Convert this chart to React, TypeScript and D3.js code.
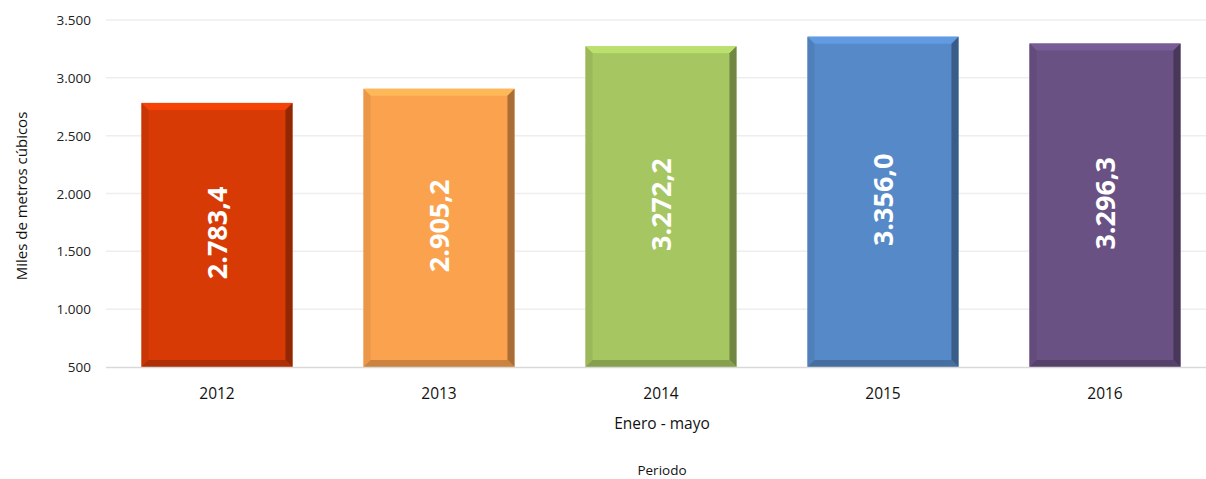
import { useRef, useEffect } from "react"
import * as d3 from "d3"

const years = ["2012", "2013", "2014", "2015", "2016"]
const values = [2783.4, 2905.2, 3272.2, 3356.0, 3296.3]
const barColors = ["#d83a06", "#fba24e", "#a6c661", "#5689c8", "#6a5184"]
const yTicks = [500, 1000, 1500, 2000, 2500, 3000, 3500]

const fmt = (v: number, dec: number) => {
  const s = v.toFixed(dec)
  const [int, frac] = s.split(".")
  const grouped = int.replace(/\B(?=(\d{3})+(?!\d))/g, ".")
  return frac ? grouped + "," + frac : grouped
}

const App = () => {
  const svgRef = useRef<SVGSVGElement>(null)

  useEffect(() => {
    const svg = d3.select(svgRef.current)
    svg.selectAll("*").remove()

    const font = "Open Sans, Calibri, sans-serif"
    const left = 106
    const right = 1216
    const top = 20
    const bottom = 367

    const x = d3.scaleBand().domain(years).range([left, right]).paddingInner(0.32).paddingOuter(0.16)
    const y = d3.scaleLinear().domain([500, 3500]).range([bottom, top])

    // Gridlines
    svg
      .append("g")
      .selectAll("line")
      .data(yTicks.slice(1))
      .enter()
      .append("line")
      .attr("x1", left)
      .attr("x2", 1206)
      .attr("y1", (d) => y(d))
      .attr("y2", (d) => y(d))
      .attr("stroke", "#eeeeee")
      .attr("stroke-width", 1.5)

    // Y tick labels
    svg
      .append("g")
      .selectAll("text")
      .data(yTicks)
      .enter()
      .append("text")
      .attr("x", 91)
      .attr("y", (d) => y(d) + 5)
      .attr("text-anchor", "end")
      .attr("font-family", font)
      .attr("font-size", 13.5)
      .attr("fill", "#222")
      .text((d) => fmt(d, 0))

    // Bars with soft bevel
    const b = 7
    const g = svg.append("g")
    years.forEach((yr, i) => {
      const x0 = x(yr)!
      const w = x.bandwidth()
      const y0 = y(values[i])
      const y1 = y(500)
      const c = barColors[i]
      const bar = g.append("g")
      bar.append("rect").attr("x", x0).attr("y", y0).attr("width", w).attr("height", y1 - y0).attr("fill", c)
      // top highlight
      bar
        .append("polygon")
        .attr("points", `${x0},${y0} ${x0 + w},${y0} ${x0 + w - b},${y0 + b} ${x0 + b},${y0 + b}`)
        .attr("fill", d3.color(c)!.brighter(0.35).formatHex())
      // left
      bar
        .append("polygon")
        .attr("points", `${x0},${y0} ${x0 + b},${y0 + b} ${x0 + b},${y1 - b} ${x0},${y1}`)
        .attr("fill", d3.color(c)!.darker(0.2).formatHex())
      // right
      bar
        .append("polygon")
        .attr("points", `${x0 + w},${y0} ${x0 + w - b},${y0 + b} ${x0 + w - b},${y1 - b} ${x0 + w},${y1}`)
        .attr("fill", d3.color(c)!.darker(1.1).formatHex())
      // bottom
      bar
        .append("polygon")
        .attr("points", `${x0},${y1} ${x0 + b},${y1 - b} ${x0 + w - b},${y1 - b} ${x0 + w},${y1}`)
        .attr("fill", d3.color(c)!.darker(0.6).formatHex())

      // value label
      const cx = x0 + w / 2
      const cy = (y0 + y1) / 2
      bar
        .append("text")
        .attr("transform", `translate(${cx + 10},${cy - 2}) rotate(-90)`)
        .attr("text-anchor", "middle")
        .attr("font-family", font)
        .attr("font-weight", "bold")
        .attr("font-size", 27)
        .attr("fill", "#ffffff")
        .text(fmt(values[i], 1))
    })

    // Baseline
    svg
      .append("line")
      .attr("x1", left)
      .attr("x2", 1206)
      .attr("y1", bottom + 0.5)
      .attr("y2", bottom + 0.5)
      .attr("stroke", "#d9d9d9")
      .attr("stroke-width", 1.5)

    // X tick labels
    svg
      .append("g")
      .selectAll("text")
      .data(years)
      .enter()
      .append("text")
      .attr("x", (d) => x(d)! + x.bandwidth() / 2)
      .attr("y", 399)
      .attr("text-anchor", "middle")
      .attr("font-family", font)
      .attr("font-size", 15.5)
      .attr("fill", "#111")
      .text((d) => d)

    // Axis titles
    svg
      .append("text")
      .attr("x", 662)
      .attr("y", 429)
      .attr("text-anchor", "middle")
      .attr("font-family", font)
      .attr("font-size", 15.5)
      .attr("fill", "#111")
      .text("Enero - mayo")

    svg
      .append("text")
      .attr("x", 662)
      .attr("y", 475)
      .attr("text-anchor", "middle")
      .attr("font-family", font)
      .attr("font-size", 13.5)
      .attr("fill", "#111")
      .text("Periodo")

    svg
      .append("text")
      .attr("transform", `translate(27,196) rotate(-90)`)
      .attr("text-anchor", "middle")
      .attr("font-family", font)
      .attr("font-size", 15)
      .attr("fill", "#111")
      .text("Miles de metros cúbicos")
  }, [])

  return (
    <svg
      ref={svgRef}
      width={1206}
      height={479}
      style={{ position: "absolute", left: 0, top: 0, display: "block", background: "#fff" }}
    />
  )
}

export default App
